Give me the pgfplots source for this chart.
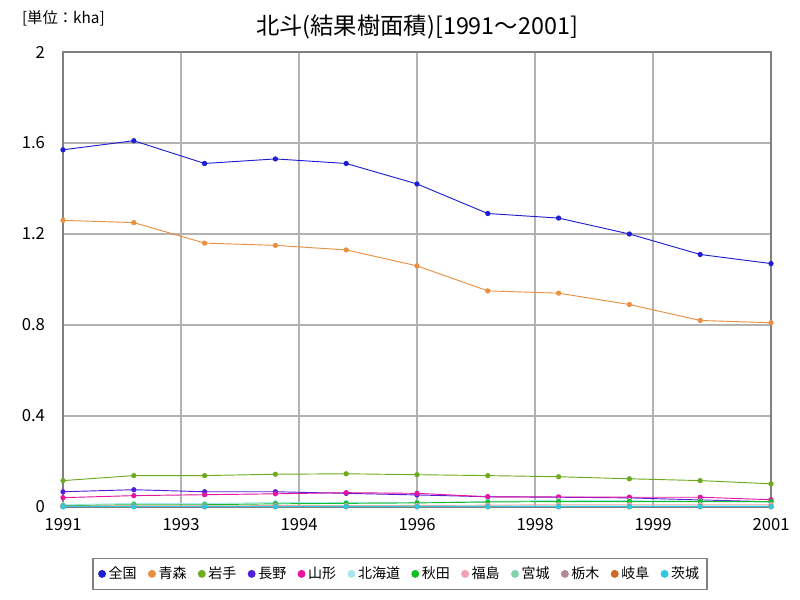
\documentclass[border=0pt]{standalone}
\usepackage{fontspec}
\setmainfont{Noto Sans CJK JP}
\usepackage{pgfplots}
\usepackage{pgfplotstable}
\pgfplotsset{compat=1.18}
\definecolor{cZenkoku}{RGB}{30,30,210}
\definecolor{cAomori}{RGB}{232,144,64}
\definecolor{cIwate}{RGB}{110,170,30}
\definecolor{cNagano}{RGB}{80,30,220}
\definecolor{cYamagata}{RGB}{230,20,160}
\definecolor{cHokkaido}{RGB}{170,230,240}
\definecolor{cAkita}{RGB}{20,190,40}
\definecolor{cFukushima}{RGB}{240,160,175}
\definecolor{cMiyagi}{RGB}{130,210,170}
\definecolor{cTochigi}{RGB}{176,136,152}
\definecolor{cGifu}{RGB}{208,104,32}
\definecolor{cIbaraki}{RGB}{48,200,224}
\definecolor{gridgray}{RGB}{178,178,178}
\definecolor{axisgray}{RGB}{128,128,128}
\pgfplotstableread{
year zen aom iwa nag yam hok aki fuk miy toc gif iba
1991 1.57 1.26 0.116 0.067 0.041 0.010 0.006 0.004 0.003 0.002 0.001 0.001
1992 1.61 1.25 0.138 0.076 0.050 0.016 0.010 0.005 0.003 0.002 0.001 0.001
1993 1.51 1.16 0.138 0.067 0.054 0.015 0.010 0.005 0.003 0.002 0.001 0.001
1994 1.53 1.15 0.144 0.067 0.058 0.020 0.014 0.006 0.003 0.002 0.001 0.001
1995 1.51 1.13 0.146 0.060 0.063 0.020 0.016 0.006 0.004 0.002 0.001 0.001
1996 1.42 1.06 0.142 0.053 0.060 0.020 0.018 0.007 0.004 0.002 0.001 0.001
1997 1.29 0.95 0.138 0.045 0.045 0.024 0.022 0.008 0.004 0.002 0.001 0.001
1998 1.27 0.94 0.133 0.043 0.044 0.030 0.024 0.010 0.004 0.002 0.001 0.001
1999 1.20 0.89 0.124 0.040 0.043 0.028 0.024 0.010 0.004 0.002 0.001 0.001
2000 1.11 0.82 0.116 0.031 0.043 0.026 0.024 0.010 0.004 0.002 0.001 0.001
2001 1.07 0.81 0.102 0.023 0.032 0.022 0.024 0.010 0.004 0.002 0.001 0.001
}\datatable
\begin{document}
\begin{tikzpicture}
\useasboundingbox (0,0) rectangle (600pt,450pt);
\node[anchor=west, font=\fontsize{11.5}{13}\selectfont] at (13pt,436.5pt) {[単位：kha]};
\node[font=\fontsize{17.5}{20}\selectfont] at (312.75pt,429.75pt) {北斗(結果樹面積)[1991～2001]};
\begin{axis}[
 at={(47.25pt,69.75pt)}, anchor=south west,
 width=531pt, height=341.25pt, scale only axis,
 xmin=1991, xmax=2001, ymin=0, ymax=2,
 xtick={1991,1992.6667,1994.3333,1996,1997.6667,1999.3333,2001},
 xticklabels={1991,1993,1994,1996,1998,1999,2001},
 ytick={0,0.4,0.8,1.2,1.6,2},
 yticklabels={0,0.4,0.8,1.2,1.6,2},
 grid=major,
 major grid style={color=gridgray, line width=1.1pt},
 axis line style={color=axisgray, line width=1.1pt},
 major tick length=0pt,
 tick label style={font=\fontsize{12.5}{14}\selectfont, text=black},
 /pgf/number format/assume math mode=true,
 xticklabel style={yshift=-5pt},
 yticklabel style={xshift=-10pt},
 legend columns=12,
 legend style={at={(0.476,-0.147)}, anchor=center, draw=axisgray, line width=1.1pt,
   font=\fontsize{10.5}{12}\selectfont, inner xsep=4pt, inner ysep=4.5pt,
   /tikz/every even column/.append style={column sep=6.5pt}},
 legend image code/.code={\fill (3pt,0) circle (2.6pt);},
 every axis plot/.append style={line width=0.7pt, mark=*, mark size=1.6pt},
]
\addplot[color=cZenkoku] table[x=year,y=zen]{\datatable};
\addlegendentry{全国}
\addplot[color=cAomori] table[x=year,y=aom]{\datatable};
\addlegendentry{青森}
\addplot[color=cIwate] table[x=year,y=iwa]{\datatable};
\addlegendentry{岩手}
\addplot[color=cNagano] table[x=year,y=nag]{\datatable};
\addlegendentry{長野}
\addplot[color=cYamagata] table[x=year,y=yam]{\datatable};
\addlegendentry{山形}
\addplot[color=cHokkaido] table[x=year,y=hok]{\datatable};
\addlegendentry{北海道}
\addplot[color=cAkita] table[x=year,y=aki]{\datatable};
\addlegendentry{秋田}
\addplot[color=cFukushima] table[x=year,y=fuk]{\datatable};
\addlegendentry{福島}
\addplot[color=cMiyagi] table[x=year,y=miy]{\datatable};
\addlegendentry{宮城}
\addplot[color=cTochigi] table[x=year,y=toc]{\datatable};
\addlegendentry{栃木}
\addplot[color=cGifu] table[x=year,y=gif]{\datatable};
\addlegendentry{岐阜}
\addplot[color=cIbaraki] table[x=year,y=iba]{\datatable};
\addlegendentry{茨城}
\end{axis}
\end{tikzpicture}
\end{document}
